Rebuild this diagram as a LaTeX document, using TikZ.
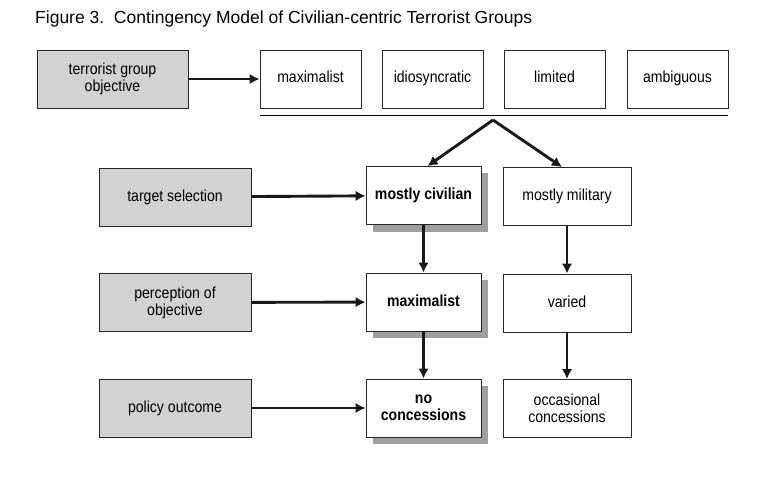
\documentclass[tikz,border=0pt]{standalone}
\usepackage{fontspec}
\setmainfont{Liberation Sans}
\newfontfamily\boxfont[FakeStretch=0.88]{Liberation Sans}
\usetikzlibrary{positioning,arrows.meta,shadows}
\tikzstyle{lab}=[draw=black!85, fill=gray!35, minimum height=58pt, minimum width=152pt, align=center, line width=0.9pt, font=\boxfont\fontsize{16}{17}\selectfont]
\tikzstyle{opt}=[draw=black!85, fill=white, minimum height=58pt, minimum width=101pt, align=center, line width=0.9pt, font=\boxfont\fontsize{16}{17}\selectfont]
\tikzstyle{res}=[opt, minimum width=115pt, font=\boxfont\fontsize{16}{17}\selectfont\bfseries, drop shadow={shadow xshift=7pt, shadow yshift=-7pt, fill=gray!75, opacity=1}]
\tikzstyle{alt}=[opt, minimum width=128pt]
\tikzstyle{one}=[text height=11.5pt, text depth=3.5pt]
\tikzstyle{flow}=[->, line width=2.9pt, black!90]

\begin{document}
\begin{tikzpicture}[x=1pt,y=-1pt,node distance=122pt,>={Latex[length=10pt,width=10.5pt]}]
\useasboundingbox (0,0) rectangle (782,500);
\node[anchor=base west, inner sep=0pt, font=\fontsize{17.5}{19}\selectfont] at (35,24) (title) {Figure 3.\ \ Contingency Model of Civilian-centric Terrorist Groups};

% group objective
\node[lab, minimum width=151pt] at (112.5,79) (obj) {terrorist group\\objective};
\node[opt, one] at (310.5,79) (o1) {maximalist};
\node[opt, one, right of = o1] (o2) {idiosyncratic};
\node[opt, one, right of = o2] (o3) {limited};
\node[opt, one, right of = o3, node distance = 123pt] (o4) {ambiguous};
\draw[flow] (obj) -- (o1);
\draw[line width=1pt] (o1.west |- 0,116) -- (o4.east |- 0,116);
\coordinate (apex) at (493,120);

% left column
\node[lab, one] at (175,197) (sel) {target selection};
\node[lab, below of = sel, node distance = 105.5pt] (per) {perception of\\objective};
\node[lab, one, below of = per, node distance = 105.5pt] (pol) {policy outcome};

% civilian-centric path
\node[res, one] at (423.5,195.5) (civ1) {mostly civilian};
\node[res, one, below of = civ1, node distance = 106.5pt] (civ2) {maximalist};
\node[res, below of = civ2, node distance = 106pt] (civ3) {no\\concessions};

% military path
\node[alt, one] at (567,196.5) (mil1) {mostly military};
\node[alt, one, below of = mil1, node distance = 106.5pt] (mil2) {varied};
\node[alt, below of = mil2, node distance = 105.5pt] (mil3) {occasional\\concessions};

\draw[flow] (apex) -- ([xshift=4pt]civ1.north);
\draw[flow] (apex) -- ([xshift=-5pt]mil1.north);
\draw[flow] (sel) -- (civ1);
\draw[flow] (per) -- (civ2);
\draw[flow] (pol) -- (civ3);
\draw[flow] (civ1) -- (civ2);
\draw[flow] (civ2) -- (civ3);
\draw[flow] (mil1) -- (mil2);
\draw[flow] (mil2) -- (mil3);
\end{tikzpicture}
\end{document}
